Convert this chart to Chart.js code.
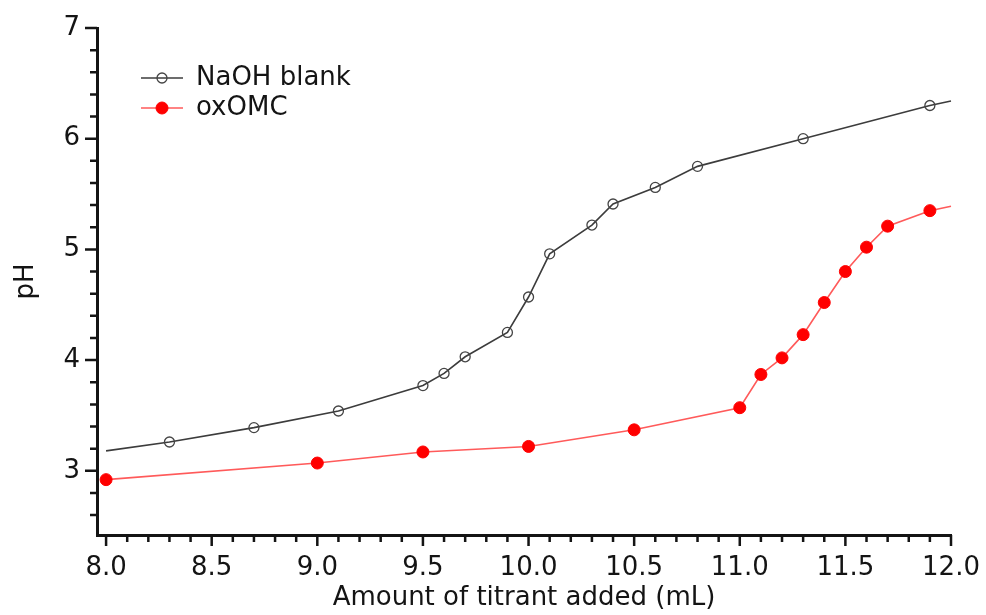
<!DOCTYPE html>
<html>
<head>
<meta charset="utf-8">
<script src="https://cdn.jsdelivr.net/npm/chart.js@4/dist/chart.umd.min.js"></script>
<style>
  html, body { margin: 0; padding: 0; background: #fff; }
  #wrap { width: 986px; height: 615px; }
</style>
</head>
<body>
<div id="wrap"><canvas id="phChart" width="986" height="615"></canvas></div>
<script>
// titration curves: volume of titrant (mL) vs pH
const BLANK_ML = [8.0, 8.3, 8.7, 9.1, 9.5, 9.6, 9.7, 9.9, 10.0, 10.1, 10.3, 10.4, 10.6, 10.8, 11.3, 11.9, 12.0];
const BLANK_PH = [3.18, 3.26, 3.39, 3.54, 3.77, 3.88, 4.03, 4.25, 4.57, 4.96, 5.22, 5.41, 5.56, 5.75, 6.0, 6.3, 6.34];

const OXOMC_ML = [8.0, 9.0, 9.5, 10.0, 10.5, 11.0, 11.1, 11.2, 11.3, 11.4, 11.5, 11.6, 11.7, 11.9, 12.0];
const OXOMC_PH = [2.92, 3.07, 3.17, 3.22, 3.37, 3.57, 3.87, 4.02, 4.23, 4.52, 4.8, 5.02, 5.21, 5.35, 5.39];

const X_TICKS = [8.0, 8.5, 9.0, 9.5, 10.0, 10.5, 11.0, 11.5, 12.0];
const Y_TICKS = [3, 4, 5, 6, 7];

const FONT = "'DejaVu Sans', 'Liberation Sans', sans-serif";
const INK = "#141414";

// minor tick positions (0.1 mL and 0.2 pH)
const xMinor = [];
for (let i = 80; i <= 120; i++) xMinor.push(i / 10);
const yMinor = [];
for (let i = 13; i <= 35; i++) yMinor.push(i / 5);

const toPoints = (xs, ys) => xs.map((x, i) => ({ x: x, y: ys[i] }));

// curve end points carry no marker
const blankRadius = (ctx) =>
  ctx.dataIndex === 0 || ctx.dataIndex === BLANK_ML.length - 1 ? 0 : 5;
const oxRadius = (ctx) => (ctx.dataIndex === OXOMC_ML.length - 1 ? 0 : 6);

const axisTicks = {
  id: "axisTicks",
  afterDraw(chart) {
    const { ctx, scales } = chart;
    const x = scales.x;
    const y = scales.y;
    ctx.save();
    ctx.strokeStyle = INK;
    ctx.lineWidth = 2.5;
    ctx.beginPath();
    xMinor.forEach((v) => {
      const px = x.getPixelForValue(v);
      const major = Math.abs(v * 2 - Math.round(v * 2)) < 1e-6;
      ctx.moveTo(px, x.top);
      ctx.lineTo(px, x.top + (major ? 11 : 7));
    });
    yMinor.forEach((v) => {
      const py = y.getPixelForValue(v);
      const major = Math.abs(v - Math.round(v)) < 1e-6;
      ctx.moveTo(y.right, py);
      ctx.lineTo(y.right - (major ? 12 : 7), py);
    });
    ctx.stroke();
    ctx.restore();
  },
};

// legend in the upper-left of the plot: line sample with marker, then label
const insideLegend = {
  id: "insideLegend",
  afterDraw(chart, args, opts) {
    const { ctx } = chart;
    ctx.save();
    chart.data.datasets.forEach((ds, i) => {
      const cy = opts.top + i * opts.rowGap;
      const cx = (opts.left + opts.right) / 2;
      ctx.strokeStyle = ds.borderColor;
      ctx.lineWidth = ds.borderWidth;
      ctx.beginPath();
      ctx.moveTo(opts.left, cy);
      ctx.lineTo(opts.right, cy);
      ctx.stroke();
      ctx.beginPath();
      ctx.arc(cx, cy, ds.legendRadius, 0, Math.PI * 2);
      ctx.fillStyle = ds.pointBackgroundColor;
      ctx.fill();
      ctx.lineWidth = ds.pointBorderWidth;
      ctx.strokeStyle = ds.pointBorderColor;
      ctx.stroke();
      ctx.fillStyle = INK;
      ctx.font = opts.font;
      ctx.textBaseline = "alphabetic";
      ctx.fillText(ds.label, opts.textX, cy + 7);
    });
    ctx.restore();
  },
};

new Chart(document.getElementById("phChart"), {
  type: "line",
  data: {
    datasets: [
      {
        label: "NaOH blank",
        data: toPoints(BLANK_ML, BLANK_PH),
        borderColor: "#3c3c3c",
        borderWidth: 1.6,
        pointRadius: blankRadius,
        pointBackgroundColor: "rgba(0,0,0,0)",
        pointBorderColor: "#444",
        pointBorderWidth: 1.3,
        legendRadius: 5,
        tension: 0,
      },
      {
        label: "oxOMC",
        data: toPoints(OXOMC_ML, OXOMC_PH),
        borderColor: "#ff5a5a",
        borderWidth: 1.6,
        pointRadius: oxRadius,
        pointBackgroundColor: "#ff0000",
        pointBorderColor: "#ff0000",
        pointBorderWidth: 1,
        legendRadius: 6,
        tension: 0,
      },
    ],
  },
  options: {
    responsive: false,
    animation: false,
    events: [],
    clip: false,
    layout: { padding: { left: 0, top: 28, right: 35, bottom: 0 } },
    plugins: {
      legend: { display: false },
      tooltip: { enabled: false },
      insideLegend: {
        left: 141,
        right: 183,
        top: 78,
        rowGap: 30,
        textX: 196,
        font: "26px " + FONT,
      },
    },
    scales: {
      x: {
        type: "linear",
        min: 7.957,
        max: 12,
        afterFit: (s) => {
          s.height = 80;
          s.paddingLeft = 0;
          s.paddingRight = 0;
        },
        afterBuildTicks: (s) => { s.ticks = X_TICKS.map((v) => ({ value: v })); },
        grid: { display: true, drawOnChartArea: false, drawTicks: false },
        border: { display: true, color: INK, width: 3 },
        ticks: {
          padding: 18,
          color: INK,
          font: { family: FONT, size: 26 },
          maxRotation: 0,
          callback: (v) => Number(v).toFixed(1),
        },
        title: {
          display: true,
          text: "Amount of titrant added (mL)",
          color: INK,
          font: { family: FONT, size: 26 },
          padding: { top: 0, bottom: 1 },
        },
      },
      y: {
        type: "linear",
        min: 2.42,
        max: 7,
        afterFit: (s) => {
          s.width = 97;
          s.paddingTop = 0;
          s.paddingBottom = 0;
        },
        afterBuildTicks: (s) => { s.ticks = Y_TICKS.map((v) => ({ value: v })); },
        grid: { display: true, drawOnChartArea: false, drawTicks: false },
        border: { display: true, color: INK, width: 3 },
        ticks: {
          padding: 17,
          color: INK,
          font: { family: FONT, size: 26 },
          callback: (v) => String(v),
        },
        title: {
          display: true,
          text: "pH",
          color: INK,
          font: { family: FONT, size: 26 },
          padding: { top: 11, bottom: 0 },
        },
      },
    },
  },
  plugins: [axisTicks, insideLegend],
});
</script>
</body>
</html>
